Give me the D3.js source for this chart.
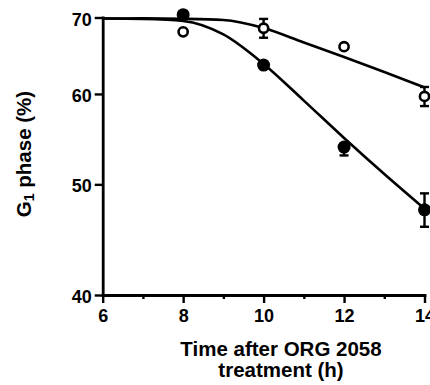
<!DOCTYPE html>
<html>
<head>
<meta charset="utf-8">
<script src="https://cdn.jsdelivr.net/npm/d3@7"></script>
<style>
  html, body { margin: 0; padding: 0; background: #fff; }
  svg { display: block; }
  text { font-family: "Liberation Sans", Arial, Helvetica, sans-serif; font-weight: bold; fill: #000; }
</style>
</head>
<body>
<svg id="chart" width="430" height="385"></svg>
<script>
// Sampling times (h)
const times = [8, 10, 12, 14];

// G1 fraction (%) – open circles (control) and filled circles (treated)
const openValues = [68.0, 68.5, 66.0, 59.7];
const openErrUp = [0, 1.3, 0, 1.15];
const openErrDown = [0, 1.3, 0, 1.15];

const filledValues = [70.4, 63.6, 53.9, 47.5];
const filledErrUp = [0, 0, 0, 1.6];
const filledErrDown = [0, 0, 0.9, 1.6];

// Fitted curves, read at each hour
const fitTimes = [6, 7, 8, 9, 10, 11, 12, 13, 14];
const openFit = [69.86, 69.87, 69.82, 69.65, 68.53, 66.56, 64.64, 62.71, 60.78];
const filledFit = [69.86, 69.79, 69.51, 67.65, 63.74, 59.2, 54.9, 51.05, 47.6];

// Axis ticks
const xMajorTicks = [6, 8, 10, 12, 14];
const xMinorTicks = [7, 9, 11, 13];
const yTicks = [40, 50, 60, 70];

const svg = d3.select("#chart");

const x = d3.scaleLinear().domain([6, 14]).range([102.7, 424.5]);
const y = d3.scaleLog().domain([40, 70]).range([295, 17.5]);

// Axes
const yAxis = svg.append("g")
  .attr("transform", `translate(${x(6)},0)`)
  .call(d3.axisLeft(y).tickValues(yTicks).tickSize(8).tickSizeOuter(0).tickPadding(3).tickFormat(d3.format("d")));

const xAxis = svg.append("g")
  .attr("transform", `translate(0,${y(40)})`)
  .call(d3.axisBottom(x).tickValues(xMajorTicks).tickSize(8).tickSizeOuter(0).tickPadding(6).tickFormat(d3.format("d")));

const xMinor = svg.append("g")
  .attr("transform", `translate(0,${y(40)})`)
  .call(d3.axisBottom(x).tickValues(xMinorTicks).tickSize(4).tickFormat(""));
xMinor.select(".domain").remove();

[yAxis, xAxis, xMinor].forEach(g => {
  g.select(".domain").attr("stroke", "#000").attr("stroke-width", 2.8).attr("stroke-linecap", "square");
  g.selectAll(".tick line").attr("stroke", "#000").attr("stroke-width", 2.4);
  g.selectAll(".tick text")
    .attr("font-size", 18)
    .attr("font-family", "'Liberation Sans', Arial, sans-serif")
    .attr("font-weight", "bold")
    .attr("fill", "#000");
});
yAxis.selectAll(".tick text").attr("dy", "0.42em");

// Axis titles
const yTitle = svg.append("text")
  .attr("transform", `translate(31,154) rotate(-90)`)
  .attr("text-anchor", "middle")
  .attr("font-size", 20.5);
yTitle.append("tspan").text("G");
yTitle.append("tspan").attr("font-size", 14).attr("dy", 3).text("1");
yTitle.append("tspan").attr("dy", -3).text(" phase (%)");

svg.append("text")
  .attr("x", 281).attr("y", 355.5)
  .attr("text-anchor", "middle")
  .attr("font-size", 20.5)
  .text("Time after ORG 2058");
svg.append("text")
  .attr("x", 281).attr("y", 377)
  .attr("text-anchor", "middle")
  .attr("font-size", 20.5)
  .text("treatment (h)");

// Fitted curves
const line = d3.line()
  .x(d => x(d[0]))
  .y(d => y(d[1]))
  .curve(d3.curveMonotoneX);

[openFit, filledFit].forEach(fit => {
  svg.append("path")
    .datum(fitTimes.map((t, i) => [t, fit[i]]))
    .attr("d", line)
    .attr("fill", "none")
    .attr("stroke", "#000")
    .attr("stroke-width", 2.6);
});

// Error bars
function drawErrors(values, up, down) {
  const capHalf = 4.5;
  const g = svg.append("g").attr("stroke", "#000").attr("stroke-width", 2.4);
  times.forEach((t, i) => {
    const cx = x(t);
    if (up[i] > 0) {
      const yy = y(values[i] + up[i]);
      g.append("line").attr("x1", cx).attr("x2", cx).attr("y1", y(values[i])).attr("y2", yy);
      g.append("line").attr("x1", cx - capHalf).attr("x2", cx + capHalf).attr("y1", yy).attr("y2", yy);
    }
    if (down[i] > 0) {
      const yy = y(values[i] - down[i]);
      g.append("line").attr("x1", cx).attr("x2", cx).attr("y1", y(values[i])).attr("y2", yy);
      g.append("line").attr("x1", cx - capHalf).attr("x2", cx + capHalf).attr("y1", yy).attr("y2", yy);
    }
  });
}
drawErrors(openValues, openErrUp, openErrDown);
drawErrors(filledValues, filledErrUp, filledErrDown);

// Markers
svg.append("g").selectAll("circle")
  .data(times.map((t, i) => [t, openValues[i]]))
  .join("circle")
  .attr("cx", d => x(d[0]))
  .attr("cy", d => y(d[1]))
  .attr("r", 4.6)
  .attr("fill", "#fff")
  .attr("stroke", "#000")
  .attr("stroke-width", 2.6);

svg.append("g").selectAll("circle")
  .data(times.map((t, i) => [t, filledValues[i]]))
  .join("circle")
  .attr("cx", d => x(d[0]))
  .attr("cy", d => y(d[1]))
  .attr("r", 6.5)
  .attr("fill", "#000");
</script>
</body>
</html>
